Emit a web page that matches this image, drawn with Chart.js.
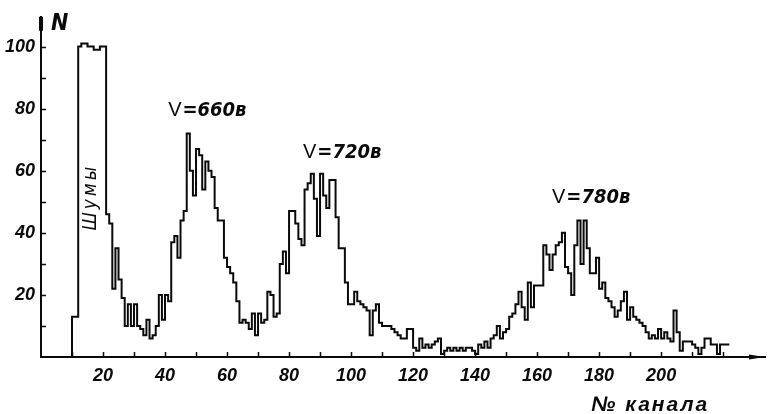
<!DOCTYPE html>
<html>
<head>
<meta charset="utf-8">
<title>Амплитудные спектры</title>
<script src="https://cdn.jsdelivr.net/npm/chart.js@4.4.1/dist/chart.umd.min.js"></script>
<style>
  html, body { margin: 0; padding: 0; background: #ffffff; }
  #wrap { width: 768px; height: 414px; }
</style>
</head>
<body>
<div id="wrap"><canvas id="spectrum" width="768" height="414"></canvas></div>
<script>
// Pulse counts per analyser channel, starting at channel 9
const firstChannel = 9;
const counts = [
  0,
  13, 13,
  100, 101, 101, 100, 100, 99, 99, 100, 100,
  46, 43, 22, 35, 25, 19, 10, 17, 10, 17,
  10, 9, 7, 12, 6, 7, 10, 20, 12, 20,
  18, 37, 39, 32, 44, 47, 72, 60, 52, 67,
  65, 54, 63, 60, 58, 48, 44, 44, 32, 29,
  27, 24, 18, 11, 12, 11, 9, 14, 7, 14,
  11, 12, 21, 20, 13, 14, 30, 34, 27, 47,
  47, 43, 38, 36, 54, 56, 59, 51, 39, 59,
  52, 48, 57, 57, 45, 35, 35, 24, 17, 17,
  21, 18, 17, 16, 15, 7, 15, 17, 11, 10,
  10, 10, 9, 8, 7, 6, 6, 9, 9, 3,
  2, 6, 3, 4, 3, 4, 5, 6, 1, 2,
  3, 2, 3, 2, 3, 2, 3, 3, 2, 1,
  4, 3, 5, 3, 6, 7, 10, 6, 8, 9,
  13, 14, 17, 21, 16, 12, 24, 16, 23, 23,
  23, 36, 33, 28, 33, 36, 37, 40, 29, 27,
  20, 36, 44, 30, 44, 35, 27, 27, 32, 22,
  24, 19, 18, 16, 13, 15, 18, 21, 12, 16,
  13, 12, 11, 10, 8, 6, 7, 6, 9, 6,
  8, 6, 5, 15, 8, 2, 5, 5, 5, 4,
  3, 1, 3, 6, 6, 4, 4, 1, 4, 4, 4
];
const xTickValues = [20, 40, 60, 80, 100, 120, 140, 160, 180, 200];
const yTickValues = [20, 40, 60, 80, 100];
const voltages = ['660', '720', '780'];
const noiseLabel = 'Шумы';
const yTitle = 'N';
const xTitle = '№ канала';

// Where each voltage caption sits, in channel / count units
const captionAnchors = [
  { channel: 41, count: 77.5 },
  { channel: 84.5, count: 64 },
  { channel: 164.8, count: 49.5 }
];

const INK = '#0a0a0a';
const CONDENSED = "'DejaVu Sans Condensed', 'Liberation Sans', sans-serif";
const PLAIN = "'Liberation Sans', Arial, sans-serif";

// Step outline: each channel value holds until the next channel starts
const points = counts.map((v, i) => ({ x: firstChannel + i, y: v }));
points.push({ x: firstChannel + counts.length, y: counts[counts.length - 1] });

const decorations = {
  id: 'decorations',
  afterDraw(chart) {
    const { ctx, chartArea: a, scales: { x, y } } = chart;
    ctx.save();
    ctx.strokeStyle = INK;
    ctx.fillStyle = INK;

    // inward tick marks every 10 units
    ctx.lineWidth = 1.5;
    for (let v = 10; v <= 100; v += 10) {
      const py = Math.round(y.getPixelForValue(v)) + 0.5;
      ctx.beginPath();
      ctx.moveTo(a.left, py);
      ctx.lineTo(a.left + 5, py);
      ctx.stroke();
    }
    for (let c = 10; c <= 220; c += 10) {
      const px = Math.round(x.getPixelForValue(c)) + 0.5;
      ctx.beginPath();
      ctx.moveTo(px, a.bottom);
      ctx.lineTo(px, a.bottom - 5);
      ctx.stroke();
    }

    // heavy tip of the vertical axis, arrow on the horizontal one
    ctx.lineWidth = 4;
    ctx.beginPath();
    ctx.moveTo(a.left, a.top);
    ctx.lineTo(a.left, a.top + 14);
    ctx.stroke();
    ctx.beginPath();
    ctx.moveTo(a.right - 16, a.bottom - 2.5);
    ctx.lineTo(a.right, a.bottom);
    ctx.lineTo(a.right - 16, a.bottom + 2.5);
    ctx.closePath();
    ctx.fill();

    // axis titles
    ctx.textBaseline = 'alphabetic';
    ctx.textAlign = 'left';
    ctx.font = "italic bold 23px " + CONDENSED;
    ctx.fillText(yTitle, a.left + 10, a.top + 13);
    ctx.font = "italic 600 21px " + PLAIN;
    ctx.letterSpacing = '2px';
    ctx.fillText(xTitle, x.getPixelForValue(177.5), 411);
    ctx.letterSpacing = '0px';

    // voltage captions
    voltages.forEach((volt, i) => {
      const px = x.getPixelForValue(captionAnchors[i].channel);
      const py = y.getPixelForValue(captionAnchors[i].count);
      ctx.font = "20px " + PLAIN;
      ctx.fillText('V', px, py);
      const w = ctx.measureText('V').width;
      ctx.font = "italic bold 20px " + CONDENSED;
      ctx.fillText('=' + volt + 'в', px + w + 1, py);
    });

    // noise label, written upward inside the noise peak
    ctx.save();
    ctx.translate(x.getPixelForValue(16.2), y.getPixelForValue(51.5));
    ctx.rotate(-Math.PI / 2);
    ctx.textAlign = 'center';
    ctx.textBaseline = 'middle';
    ctx.font = "italic 19px " + CONDENSED;
    ctx.letterSpacing = '3px';
    ctx.fillText(noiseLabel, 0, 0);
    ctx.restore();

    ctx.restore();
  }
};

const tickFont = { family: PLAIN, size: 18, style: 'italic', weight: 'bold' };

new Chart(document.getElementById('spectrum'), {
  type: 'line',
  data: {
    datasets: [{
      data: points,
      stepped: 'before',
      borderColor: INK,
      borderWidth: 2,
      pointRadius: 0,
      fill: false,
      tension: 0,
      borderJoinStyle: 'miter'
    }]
  },
  options: {
    responsive: false,
    animation: false,
    devicePixelRatio: 1,
    layout: { padding: { top: 15, right: 3, left: 0, bottom: 0 } },
    plugins: { legend: { display: false }, tooltip: { enabled: false } },
    scales: {
      x: {
        type: 'linear',
        min: 0,
        max: 233.5,
        grid: { display: false, drawTicks: false },
        border: { display: true, color: INK, width: 2 },
        afterBuildTicks: s => { s.ticks = xTickValues.map(v => ({ value: v })); },
        afterFit: s => { s.height = 57; },
        ticks: { color: INK, font: tickFont, padding: 8, maxRotation: 0, autoSkip: false }
      },
      y: {
        type: 'linear',
        min: 0,
        max: 109.6,
        grid: { display: false, drawTicks: false },
        border: { display: true, color: INK, width: 2 },
        afterBuildTicks: s => { s.ticks = yTickValues.map(v => ({ value: v })); },
        afterFit: s => { s.width = 41; },
        ticks: { color: INK, font: tickFont, padding: 6, autoSkip: false }
      }
    }
  },
  plugins: [decorations]
});
</script>
</body>
</html>
